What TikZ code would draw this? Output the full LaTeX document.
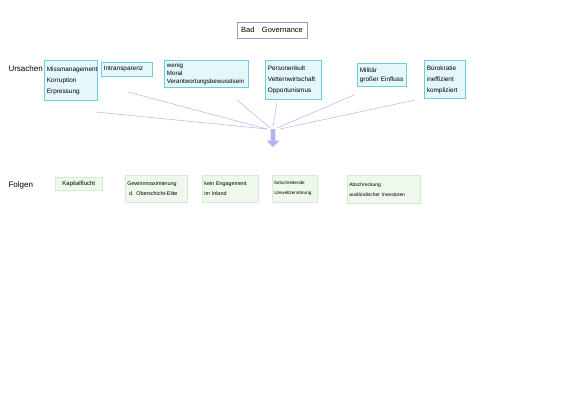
\documentclass[tikz,border=0pt]{standalone}
\usepackage{fontspec}
\setmainfont{Liberation Sans}
\usetikzlibrary{shapes.arrows}
\definecolor{cyfill}{HTML}{E4F7FA}
\definecolor{cyline}{HTML}{6CCFE0}
\definecolor{grfill}{HTML}{EEF8EC}
\definecolor{grline}{HTML}{D2ECCF}
\definecolor{lav}{HTML}{B4B4EE}
\definecolor{titleline}{HTML}{9A9AC4}
\begin{document}
\begin{tikzpicture}[x=1pt,y=-1pt,
  cause/.style={draw=cyline,fill=cyfill,line width=0.8pt,inner sep=2pt,align=left,anchor=north west,font=\fontsize{6.4}{11}\selectfont},
  effect/.style={draw=grline,fill=grfill,line width=0.6pt,inner sep=2pt,align=left,anchor=north west,font=\fontsize{5.4}{10}\selectfont},
  lbl/.style={anchor=west,font=\fontsize{8}{9}\selectfont},
  conn/.style={draw=lav,line width=0.5pt}]
\useasboundingbox (0,0) rectangle (565,400);
\fill[white] (0,0) rectangle (565,400);
% title
\node[draw=titleline,line width=0.6pt,minimum width=70pt,minimum height=16pt,font=\fontsize{7.5}{9}\selectfont] (title) at (272,30) {Bad\quad Governance};
% labels
\node[lbl] (urs) at (5,69) {Ursachen};
\node[lbl] (fol) at (5,185) {Folgen};
% causes
\node[cause,minimum width=53pt,minimum height=40pt,text width=48pt] (c1) at (44,60) {Missmanagement\\Korruption\\Erpressung};
\node[cause,minimum width=51pt,minimum height=14pt,text width=46pt] (c2) at (101,62) {Intransparenz};
\node[cause,minimum width=84pt,minimum height=27pt,text width=79pt,font=\fontsize{6.2}{8}\selectfont] (c3) at (164,60) {wenig\\Moral\\Verantwortungsbewusstsein};
\node[cause,minimum width=56pt,minimum height=39pt,text width=51pt] (c4) at (265,60) {Personenkult\\Vetternwirtschaft\\Opportunismus};
\node[cause,minimum width=49pt,minimum height=23pt,text width=44pt,font=\fontsize{6.4}{9}\selectfont] (c5) at (357,63) {Militär\\großer Einfluss};
\node[cause,minimum width=41pt,minimum height=38pt,text width=36pt] (c6) at (424,60) {Bürokratie\\ineffizient\\kompliziert};
% arrow
\node[single arrow,shape border rotate=270,fill=lav,draw=none,minimum width=13pt,single arrow head extend=3pt,single arrow head indent=0pt,minimum height=18pt,inner sep=1.5pt] (arr) at (273,137) {};
\coordinate (t1) at (267,129);
\coordinate (t2) at (270,128);
\coordinate (t3) at (273,127);
\coordinate (t4) at (277,128);
\coordinate (t5) at (280,129);
\coordinate (s1) at (96,112);
\coordinate (s2) at (128,92);
\coordinate (s3) at (237,100);
\coordinate (s4) at (277,102);
\coordinate (s5) at (354,95);
\coordinate (s6) at (415,100);
\draw[conn] (s1) -- (t1);
\draw[conn] (s2) -- (t1);
\draw[conn] (s3) -- (t2);
\draw[conn] (s4) -- (t3);
\draw[conn] (s5) -- (t4);
\draw[conn] (s6) -- (t5);
% effects
\node[effect,minimum width=47pt,minimum height=13pt,font=\fontsize{6}{8}\selectfont] (e1) at (55,177) {Kapitalflucht};
\node[effect,minimum width=62pt,minimum height=27pt,text width=58pt] (e2) at (125,175) {Gewinnmaximierung\\\ d. Oberschicht-Elite};
\node[effect,minimum width=56pt,minimum height=27pt,text width=52pt] (e3) at (202,175) {kein Engagement\\im Inland};
\node[effect,minimum width=45pt,minimum height=27pt,text width=41pt,font=\fontsize{4.6}{10}\selectfont] (e4) at (272,175) {fortschreitende\\Umweltzerstörung};
\node[effect,minimum width=73pt,minimum height=28pt,text width=69pt,font=\fontsize{5}{10}\selectfont] (e5) at (347,175) {Abschreckung\\ausländischer Investoren};
\end{tikzpicture}
\end{document}
